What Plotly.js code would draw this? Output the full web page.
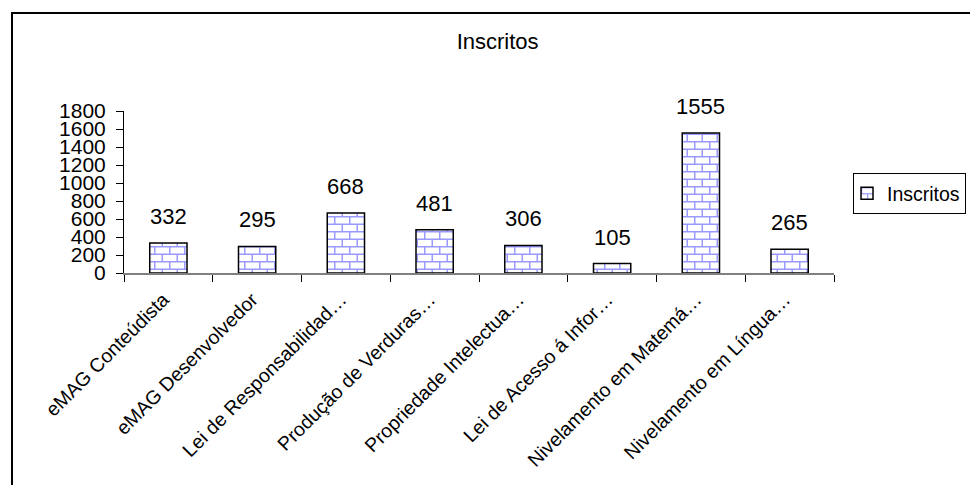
<!DOCTYPE html>
<html>
<head>
<meta charset="utf-8">
<script src="https://cdn.plot.ly/plotly-3.0.1.min.js"></script>
<style>
  html, body { margin: 0; padding: 0; background: #fff; overflow: hidden; }
  #wrap { position: relative; width: 970px; height: 485px; overflow: hidden; }
  #chart { position: absolute; left: 0; top: 0; width: 970px; height: 485px; }
  #frame { position: absolute; left: 11px; top: 12px; width: 1000px; height: 520px;
           border: 2px solid #000; pointer-events: none; box-sizing: border-box; }
</style>
</head>
<body>
<div id="wrap">
  <div id="chart"></div>
  <div id="frame"></div>
</div>
<script>
const chartTitle = "Inscritos";
const seriesName = "Inscritos";
const categories = [
  "eMAG Conteúdista",
  "eMAG Desenvolvedor",
  "Lei de Responsabilidad…",
  "Produção de Verduras…",
  "Propriedade Intelectua…",
  "Lei de Acesso á Infor…",
  "Nivelamento em Matemá…",
  "Nivelamento em Língua…"
];
const inscritos = [332, 295, 668, 481, 306, 105, 1555, 265];
const yTicks = [0, 200, 400, 600, 800, 1000, 1200, 1400, 1600, 1800];

const FONT = "Arial, 'Liberation Sans', sans-serif";

const trace = {
  type: "bar",
  x: categories,
  y: inscritos,
  name: seriesName,
  showlegend: true,
  marker: {
    color: "#ffffff",
    line: { color: "#000000", width: 1.5 },
    pattern: { shape: "+", fgcolor: "#9999ff", bgcolor: "#ffffff", size: 8, solidity: 0.15 }
  },
  hoverinfo: "skip"
};

const annotations = categories.map((c, i) => ({
  x: c, y: inscritos[i], xref: "x", yref: "y",
  text: String(inscritos[i]), showarrow: false,
  yanchor: "bottom", yshift: 12,
  font: { family: FONT, size: 22, color: "#000" }
}));

const layout = {
  width: 970, height: 485,
  paper_bgcolor: "#ffffff", plot_bgcolor: "#ffffff",
  margin: { l: 124, r: 136, t: 111, b: 212, pad: 0, autoexpand: false },
  font: { family: FONT, color: "#000" },
  title: {
    text: chartTitle, font: { family: FONT, size: 22, color: "#000" },
    xref: "container", yref: "container", x: 0.513, y: 0.915, xanchor: "center", yanchor: "middle"
  },
  bargap: 0.58,
  xaxis: {
    type: "category", automargin: false,
    showline: true, linecolor: "#808080", linewidth: 1.5,
    ticks: "outside", tickson: "boundaries", ticklen: 7, tickcolor: "#000", tickwidth: 1,
    tickangle: -45, tickfont: { family: FONT, size: 19.5, color: "#000" },
    ticklabelstandoff: 6, ticklabelshift: -5,
    showgrid: false, zeroline: false
  },
  yaxis: {
    range: [0, 1800], automargin: false,
    tickmode: "array", tickvals: yTicks, ticktext: yTicks.map(String),
    showline: true, linecolor: "#000", linewidth: 1,
    ticks: "outside", ticklen: 7, tickcolor: "#000", tickwidth: 1,
    tickfont: { family: FONT, size: 21, color: "#000" },
    ticklabelstandoff: 6,
    showgrid: false, zeroline: false
  },
  legend: {
    xref: "container", yref: "container",
    x: 0.8794, y: 0.6433, xanchor: "left", yanchor: "top",
    indentation: -7,
    bordercolor: "#000", borderwidth: 1, bgcolor: "#fff",
    font: { family: FONT, size: 19.5, color: "#000" }
  },
  annotations: annotations,
  hovermode: false
};

function brickify(gd) {
  const pats = gd.querySelectorAll("pattern");
  pats.forEach(p => {
    p.setAttribute("width", "15");
    p.setAttribute("height", "15");
    p.setAttribute("patternUnits", "userSpaceOnUse");
    p.innerHTML = '<rect x="0" y="0" width="15" height="15" fill="#ffffff"></rect>' +
      '<path d="M0,0.75H15M0,8.25H15M0.75,0V8.25M8.25,8.25V15" stroke="#9999ff" stroke-width="1.5" fill="none"></path>';
  });
}

Plotly.newPlot("chart", [trace], layout, { staticPlot: true, displayModeBar: false })
  .then(gd => { brickify(gd); });
</script>
</body>
</html>
